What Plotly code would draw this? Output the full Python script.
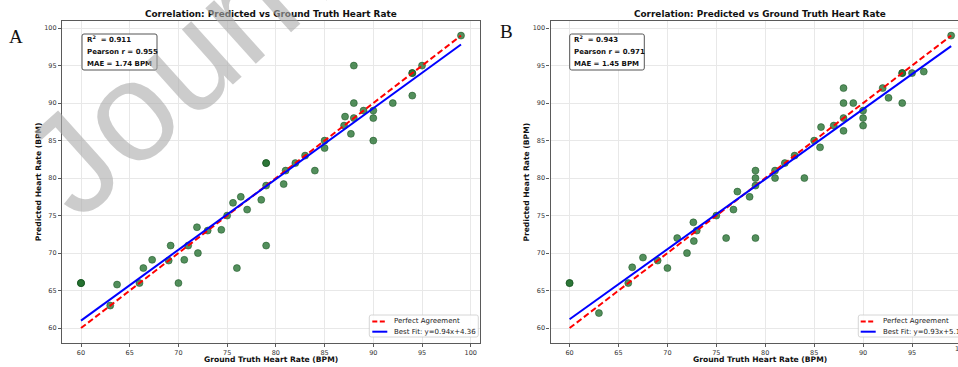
import plotly.graph_objects as go

# ---------------- data ----------------
gt_a = [60, 60, 60, 63, 63.7, 66, 66.4, 67.3, 69, 69.2, 70, 70.6, 71, 71.9, 72, 73, 74.4, 75,
        75.6, 76, 76.4, 77.05, 78.5, 79, 79, 79, 79, 80.8, 81, 82, 83, 84, 85, 85, 87, 87.1,
        87.7, 88, 88, 88, 89, 90, 90, 90, 92, 94, 94, 94, 95, 99]
pred_a = [66, 66, 66, 63, 65.8, 66, 68, 69.1, 69, 71, 66, 69.1, 71, 73.45, 70, 73, 73.1, 75,
          76.7, 68, 77.5, 75.8, 77.1, 79, 82, 82, 71, 79.2, 81, 82, 83, 81, 85, 84, 87, 88.2,
          85.9, 88, 90, 95, 89, 89, 88, 85, 90, 94, 94, 91, 95, 99]

gt_b = [60, 60, 63, 66, 66.4, 67.5, 69, 70, 71, 72, 72.65, 72.7, 73, 75, 76, 76.75, 77.15,
        78.4, 79, 79, 79, 79, 81, 81, 82, 83, 84, 85, 85.6, 85.7, 87, 88, 88, 88, 88, 89, 90,
        90, 90, 92, 92.6, 94, 94, 94, 95, 96.2, 99]
pred_b = [66, 66, 62, 66, 68.1, 69.4, 69, 68, 72, 70, 74.1, 71.6, 73, 75, 72, 75.8, 78.2,
          77.5, 79, 80, 81, 72, 81, 80, 82, 83, 80, 85, 84.1, 86.8, 87, 88, 90, 92, 86.3, 90,
          89, 88, 87, 92, 90.7, 94, 94, 90, 94, 94.2, 99]

fit_a = {"slope": 0.944, "intercept": 4.36, "label": "Best Fit: y=0.94x+4.36"}
fit_b = {"slope": 0.934, "intercept": 5.14, "label": "Best Fit: y=0.93x+5.14"}

stats_a = ["R<sup>2</sup>  = 0.911", "Pearson r = 0.955", "MAE = 1.74 BPM"]
stats_b = ["R<sup>2</sup>  = 0.943", "Pearson r = 0.971", "MAE = 1.45 BPM"]

ticks = [60, 65, 70, 75, 80, 85, 90, 95, 100]
title_text = "Correlation: Predicted vs Ground Truth Heart Rate"
xlabel = "Ground Truth Heart Rate (BPM)"
ylabel = "Predicted Heart Rate (BPM)"
watermark = "Journal Pre-proof"

# ---------------- helpers ----------------
W, H = 958, 367
def px(x):
    return x / W
def py(y):
    return 1 - y / H

FONT = "DejaVu Sans"
MARKER = dict(size=7, color="rgba(34,112,46,0.78)", line=dict(width=0.6, color="rgba(20,80,30,0.85)"))

fig = go.Figure()

panels = [
    dict(gt=gt_a, pred=pred_a, fit=fit_a, xa="x", ya="y"),
    dict(gt=gt_b, pred=pred_b, fit=fit_b, xa="x2", ya="y2"),
]
for p in panels:
    fig.add_trace(go.Scatter(x=p["gt"], y=p["pred"], mode="markers", marker=MARKER,
                             xaxis=p["xa"], yaxis=p["ya"], showlegend=False))
    lo, hi = min(p["gt"]), max(p["gt"])
    fig.add_trace(go.Scatter(x=[lo, hi], y=[lo, hi], mode="lines",
                             line=dict(color="red", width=2, dash="6px,3px"),
                             xaxis=p["xa"], yaxis=p["ya"], showlegend=False))
    f = p["fit"]
    fig.add_trace(go.Scatter(x=[lo, hi], y=[f["slope"] * lo + f["intercept"], f["slope"] * hi + f["intercept"]],
                             mode="lines", line=dict(color="blue", width=2),
                             xaxis=p["xa"], yaxis=p["ya"], showlegend=False))

axis_common = dict(tickvals=ticks, showgrid=True, gridcolor="#e8e8e8", gridwidth=0.8,
                   showline=True, linecolor="#5a5a5a", linewidth=1.3,
                   ticks="outside", ticklen=3, tickwidth=0.8, tickcolor="#5a5a5a",
                   tickfont=dict(family=FONT, size=6.5, color="#333"), zeroline=False)

fig.update_layout(
    width=W, height=H, margin=dict(l=0, r=0, t=0, b=0, autoexpand=False),
    paper_bgcolor="white", plot_bgcolor="white", showlegend=False,
    xaxis=dict(domain=[px(62), px(480)], range=[58.05, 100.95], mirror=True, anchor="y", **axis_common),
    yaxis=dict(domain=[py(342.7), py(21)], range=[58.05, 100.95], mirror=True, anchor="x", **axis_common),
    xaxis2=dict(domain=[px(550.5), 1.0], range=[58.05, 99.70], mirror=True, anchor="y2", **axis_common),
    yaxis2=dict(domain=[py(342.7), py(21)], range=[58.05, 100.95], mirror=False, anchor="x2", **axis_common),
)

ann = []
shapes = []

def rrect(x0, y0, x1, y1, r, color, fill, width):
    path = (f"M {px(x0 + r)} {py(y0)} L {px(x1 - r)} {py(y0)} Q {px(x1)} {py(y0)} {px(x1)} {py(y0 + r)} "
            f"L {px(x1)} {py(y1 - r)} Q {px(x1)} {py(y1)} {px(x1 - r)} {py(y1)} "
            f"L {px(x0 + r)} {py(y1)} Q {px(x0)} {py(y1)} {px(x0)} {py(y1 - r)} "
            f"L {px(x0)} {py(y0 + r)} Q {px(x0)} {py(y0)} {px(x0 + r)} {py(y0)} Z")
    return dict(type="path", xref="paper", yref="paper", path=path,
                line=dict(color=color, width=width), fillcolor=fill, layer="above")

layout_panels = [
    dict(cx=271, ylab_x=39.3, label="A", lab_x=16, lab_y=36, box=(82, 34, 157, 70), txt_x=84.5,
         stats=stats_a, leg=(369.3, 315, 478.3, 337), leg_line=(372.3, 387.3), leg_txt=391.7, fit=fit_a),
    dict(cx=760, ylab_x=526.7, label="B", lab_x=506, lab_y=32, box=(569.7, 34, 644.3, 70), txt_x=572,
         stats=stats_b, leg=(858.3, 315, 967, 337), leg_line=(860.7, 875.7), leg_txt=880.7, fit=fit_b),
]
for L in layout_panels:
    ann.append(dict(x=px(L["cx"]), y=py(14), xref="paper", yref="paper", text=f"<b>{title_text}</b>",
                    showarrow=False, xanchor="center", yanchor="middle",
                    font=dict(family=FONT, size=8.9, color="#111")))
    ann.append(dict(x=px(L["cx"]), y=py(359), xref="paper", yref="paper", text=f"<b>{xlabel}</b>",
                    showarrow=False, xanchor="center", yanchor="middle",
                    font=dict(family=FONT, size=7.6, color="#111")))
    ann.append(dict(x=px(L["ylab_x"]), y=py(181.9), xref="paper", yref="paper", text=f"<b>{ylabel}</b>",
                    showarrow=False, xanchor="center", yanchor="middle", textangle=-90,
                    font=dict(family=FONT, size=7.6, color="#111")))
    ann.append(dict(x=px(L["lab_x"]), y=py(L["lab_y"]), xref="paper", yref="paper", text=L["label"],
                    showarrow=False, xanchor="center", yanchor="middle",
                    font=dict(family="Liberation Serif", size=19, color="#111")))
    bx0, by0, bx1, by1 = L["box"]
    shapes.append(rrect(bx0, by0, bx1, by1, 2, "#555", "rgba(255,255,255,0.9)", 1))
    for i, s in enumerate(L["stats"]):
        ann.append(dict(x=px(L["txt_x"]), y=py(39.5 + i * 12), xref="paper", yref="paper", text=f"<b>{s}</b>",
                        showarrow=False, xanchor="left", yanchor="middle",
                        font=dict(family=FONT, size=7, color="#111")))
    lx0, ly0, lx1, ly1 = L["leg"]
    shapes.append(rrect(lx0, ly0, lx1, ly1, 2, "#cccccc", "rgba(255,255,255,0.85)", 0.8))
    a0, a1 = L["leg_line"]
    shapes.append(dict(type="line", xref="paper", yref="paper", x0=px(a0), x1=px(a1), y0=py(321.5), y1=py(321.5),
                       line=dict(color="red", width=2, dash="5px,2.5px"), layer="above"))
    shapes.append(dict(type="line", xref="paper", yref="paper", x0=px(a0), x1=px(a1), y0=py(331.7), y1=py(331.7),
                       line=dict(color="blue", width=2), layer="above"))
    ann.append(dict(x=px(L["leg_txt"]), y=py(321.3), xref="paper", yref="paper", text="Perfect Agreement",
                    showarrow=False, xanchor="left", yanchor="middle",
                    font=dict(family=FONT, size=7, color="#222")))
    ann.append(dict(x=px(L["leg_txt"]), y=py(331.5), xref="paper", yref="paper", text=L["fit"]["label"],
                    showarrow=False, xanchor="left", yanchor="middle",
                    font=dict(family=FONT, size=7, color="#222")))

# clipped "100" tick label of panel B (falls just past the page edge)
ann.append(dict(x=px(569.3 + 40 * 9.783), y=py(349.3), xref="paper", yref="paper", text="100",
                showarrow=False, xanchor="center", yanchor="middle",
                font=dict(family=FONT, size=6.5, color="#333")))

# watermark
ann.append(dict(x=px(453), y=py(-181), xref="paper", yref="paper", text=watermark,
                showarrow=False, xanchor="center", yanchor="middle", textangle=-42,
                font=dict(family="Liberation Sans", size=142, color="rgba(170,170,170,0.6)")))

fig.update_layout(annotations=ann, shapes=shapes)
fig.write_html("out.html")
